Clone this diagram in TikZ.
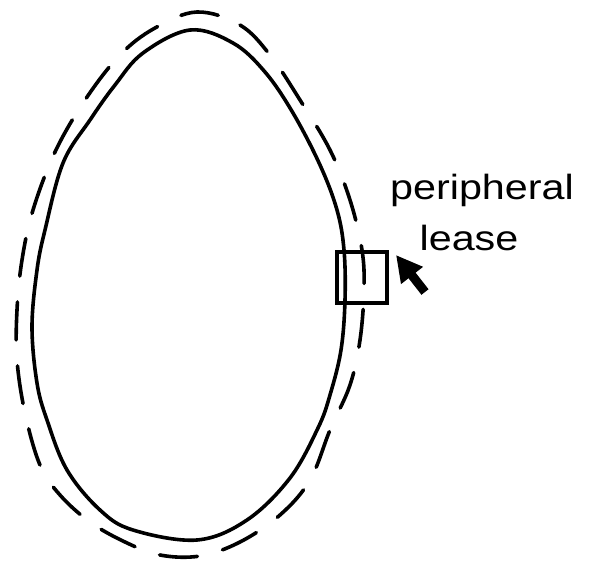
\documentclass[tikz,border=0pt]{standalone}
\usepackage{fontspec}
\setmainfont{Liberation Sans}[FakeStretch=1.18]
\usepackage{tikz}
\usetikzlibrary{arrows.meta,positioning}
\tikzset{
  eggline/.style={draw=black, line width=3.6pt, line join=round},
  leaseline/.style={draw=black, line width=3.6pt, dash pattern=on 38pt off 26pt, line cap=round},
  leasebox/.style={draw=black, line width=3.6pt, minimum width=50pt, minimum height=51pt, inner sep=0pt},
  leasearrow/.style={-{Triangle[length=26pt,width=26pt]}, line width=9pt, black},
  lbl/.style={font=\fontsize{35}{42}\selectfont, inner sep=0pt}
}

\begin{document}
\begin{tikzpicture}[x=1pt, y=-1pt]
\useasboundingbox (0,0) rectangle (589,562);
% cell
\draw[eggline] plot[smooth cycle, tension=0.6] coordinates {
  (190,30) (233,43) (265,72) (293,113) (320,165) (337,210) (344,250) (345,300)
  (341,350) (330,395) (318,428) (290,478) (247,520) (197,540) (133,530)
  (100,510) (67,470) (47,420) (37,383) (32,327) (37,270) (45,230) (63,163)
  (90,120) (115,85) (143,53)};
% periphery
\draw[leaseline] plot[smooth cycle, tension=0.6] coordinates {
  (197,12) (240,25) (270,55) (300,100) (330,150) (350,200) (362,250) (364,290)
  (360,340) (350,385) (330,430) (310,480) (280,515) (240,542) (200,556)
  (160,555) (125,542) (90,522) (60,495) (40,465) (25,413) (17,360) (17,310)
  (22,260) (33,210) (55,152) (85,100) (120,55) (155,28)};
\node[leasebox] (box) at (362,277.5) {};
\node[lbl] (peri) at (482,190) {peripheral};
\node[lbl, below=18pt of peri.south, xshift=-13pt] (lease) {lease};
\coordinate (tail) at (425,292);
\coordinate (tip) at (396,255);
\draw[leasearrow] (tail) -- (tip);
\end{tikzpicture}
\end{document}
